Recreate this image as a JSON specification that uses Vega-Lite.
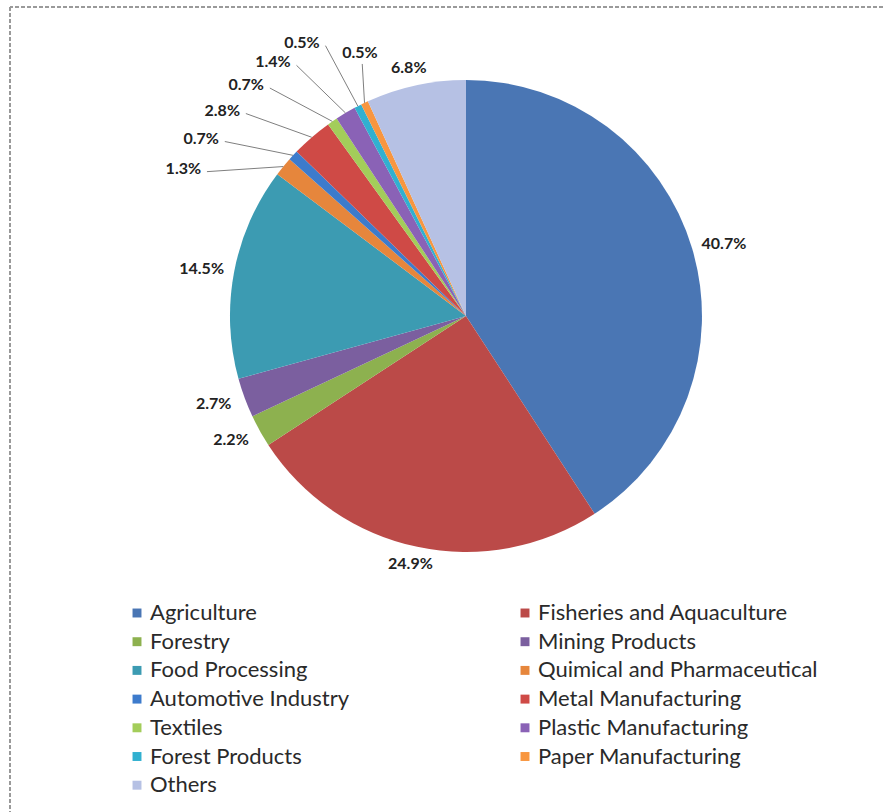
{
  "$schema": "https://vega.github.io/schema/vega-lite/v6.json",
  "width": 873,
  "height": 805,
  "autosize": {"type": "none"},
  "padding": {"left": 10, "top": 7, "right": 0, "bottom": 0},
  "background": "#ffffff",
  "config": {"view": {"stroke": null}},
  "data": {
    "values": [
      {"idx": 1, "sector": "Agriculture", "pct": 40.7},
      {"idx": 2, "sector": "Fisheries and Aquaculture", "pct": 24.9},
      {"idx": 3, "sector": "Forestry", "pct": 2.2},
      {"idx": 4, "sector": "Mining Products", "pct": 2.7},
      {"idx": 5, "sector": "Food Processing", "pct": 14.5},
      {"idx": 6, "sector": "Quimical and Pharmaceutical", "pct": 1.3},
      {"idx": 7, "sector": "Automotive Industry", "pct": 0.7},
      {"idx": 8, "sector": "Metal Manufacturing", "pct": 2.8},
      {"idx": 9, "sector": "Textiles", "pct": 0.7},
      {"idx": 10, "sector": "Plastic Manufacturing", "pct": 1.4},
      {"idx": 11, "sector": "Forest Products", "pct": 0.5},
      {"idx": 12, "sector": "Paper Manufacturing", "pct": 0.5},
      {"idx": 13, "sector": "Others", "pct": 6.8}
    ]
  },
  "transform": [
    {"joinaggregate": [{"op": "sum", "field": "pct", "as": "total"}]},
    {"window": [{"op": "sum", "field": "pct", "as": "cum"}], "sort": [{"field": "idx", "order": "ascending"}], "frame": [null, 0]},
    {"calculate": "2*PI*(datum.cum - datum.pct/2)/datum.total", "as": "mid"},
    {"calculate": "datum.idx >= 6 && datum.idx <= 12", "as": "small"},
    {"calculate": "datum.idx == 12 ? 338*PI/180 : datum.small ? (297.5 + (datum.idx-6)*6.3)*PI/180 : datum.mid", "as": "la"},
    {"calculate": "datum.idx == 12 ? 1.2 : 1.35", "as": "lr"},
    {"calculate": "datum.small ? datum.lr*sin(datum.la) : 1.14*sin(datum.mid)", "as": "lx"},
    {"calculate": "datum.small ? datum.lr*cos(datum.la) : 1.075*cos(datum.mid)", "as": "ly"},
    {"calculate": "sin(datum.mid)", "as": "ex"},
    {"calculate": "cos(datum.mid)", "as": "ey"},
    {"calculate": "datum.idx == 12 ? datum.lx + 0.01 : datum.lx + 0.1", "as": "ax"},
    {"calculate": "datum.idx == 12 ? datum.ly - 0.045 : datum.ly - 0.012", "as": "ay"},
    {"calculate": "format(datum.pct, '.1f') + '%'", "as": "lab"}
  ],
  "layer": [
    {
      "mark": {"type": "rule", "stroke": "#9a9a9a", "strokeWidth": 1.6, "strokeDash": [4, 2]},
      "encoding": {
        "y": {"datum": 1.309, "type": "quantitative", "scale": {"domain": [-2.102, 1.309], "nice": false, "zero": false}, "axis": null}
      }
    },
    {
      "mark": {"type": "rule", "stroke": "#9a9a9a", "strokeWidth": 1.6, "strokeDash": [4, 2]},
      "encoding": {
        "x": {"datum": -1.932, "type": "quantitative", "scale": {"domain": [-1.932, 1.767], "nice": false, "zero": false}, "axis": null}
      }
    },
    {
      "mark": {"type": "arc", "outerRadius": 236},
      "encoding": {
        "x": {"datum": 0, "type": "quantitative", "scale": {"domain": [-1.932, 1.767], "nice": false, "zero": false}, "axis": null},
        "y": {"datum": 0, "type": "quantitative", "scale": {"domain": [-2.102, 1.309], "nice": false, "zero": false}, "axis": null},
        "theta": {"field": "pct", "type": "quantitative", "stack": true},
        "order": {"field": "idx", "type": "quantitative"},
        "color": {
          "field": "sector",
          "type": "nominal",
          "scale": {
            "domain": ["Agriculture", "Forestry", "Food Processing", "Automotive Industry", "Textiles", "Forest Products", "Others", "Fisheries and Aquaculture", "Mining Products", "Quimical and Pharmaceutical", "Metal Manufacturing", "Plastic Manufacturing", "Paper Manufacturing"],
            "range": ["#4a76b4", "#8db14f", "#3c9bb2", "#3d7bcc", "#a3cd5a", "#31b0d0", "#b6c1e4", "#bb4a48", "#7b5f9f", "#e6863c", "#cf4a46", "#8a62b6", "#f8963f"]
          },
          "legend": {
            "orient": "none",
            "legendX": 116,
            "legendY": 595,
            "columns": 2,
            "columnPadding": 164,
            "rowPadding": 6.7,
            "title": null,
            "symbolType": "square",
            "symbolSize": 80,
            "symbolStrokeWidth": 0,
            "labelFont": "Lato",
            "labelFontSize": 22,
            "labelColor": "#2a2a2a",
            "labelOffset": 2,
            "labelLimit": 500
          }
        }
      }
    },
    {
      "transform": [{"filter": "datum.small"}],
      "mark": {"type": "rule", "stroke": "#7f7f7f", "strokeWidth": 1},
      "encoding": {
        "x": {"field": "ax", "type": "quantitative", "scale": {"domain": [-1.932, 1.767], "nice": false, "zero": false}, "axis": null},
        "y": {"field": "ay", "type": "quantitative", "scale": {"domain": [-2.102, 1.309], "nice": false, "zero": false}, "axis": null},
        "x2": {"field": "ex"},
        "y2": {"field": "ey"}
      }
    },
    {
      "mark": {"type": "text", "font": "Lato", "fontWeight": "bold", "fontSize": 16, "fill": "#222222", "baseline": "middle", "align": "center"},
      "encoding": {
        "x": {"field": "lx", "type": "quantitative", "scale": {"domain": [-1.932, 1.767], "nice": false, "zero": false}, "axis": null},
        "y": {"field": "ly", "type": "quantitative", "scale": {"domain": [-2.102, 1.309], "nice": false, "zero": false}, "axis": null},
        "text": {"field": "lab"}
      }
    }
  ]
}
